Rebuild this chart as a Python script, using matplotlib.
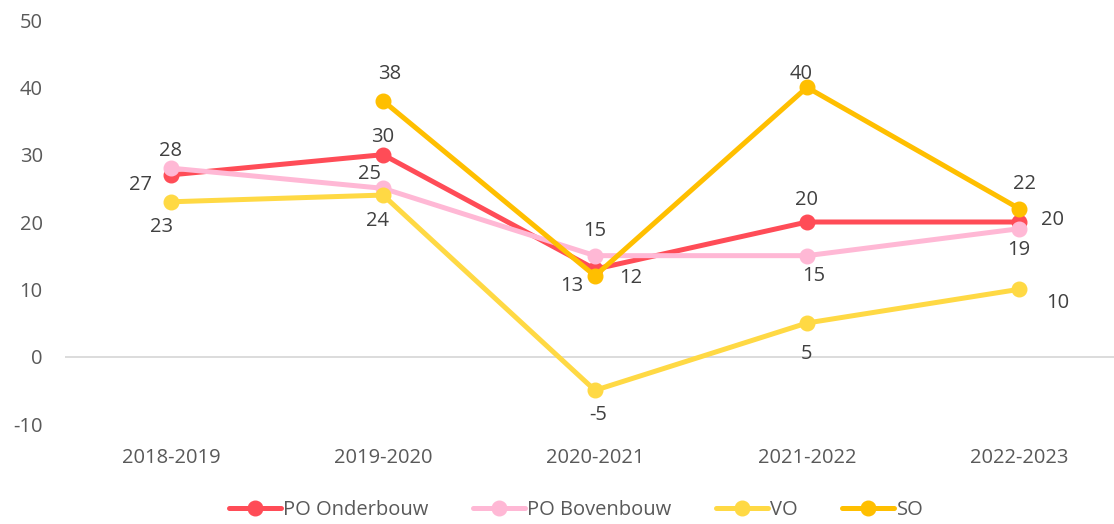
import matplotlib.pyplot as plt
import numpy as np

years = ["2018-2019", "2019-2020", "2020-2021", "2021-2022", "2022-2023"]
po_onder = [27, 30, 13, 20, 20]
po_boven = [28, 25, 15, 15, 19]
vo = [23, 24, -5, 5, 10]
so = [np.nan, 38, 12, 40, 22]

names = ["PO Onderbouw", "PO Bovenbouw", "VO", "SO"]
colors = ["#FF4C57", "#FFB8D5", "#FFD944", "#FFBF00"]
# label offsets in points (dx, dy) per point
offsets = [
    [(-22, -6), (0, 14), (-17, -11), (0, 17), (24, 3)],
    [(0, 14), (-10, 11.5), (0, 19), (5, -13), (0, -14)],
    [(-7, -17), (-4, -17), (2, -16), (0, -21), (28, -8)],
    [None, (5, 21), (26, 0), (-4, 11), (4, 19)],
]

plt.rcParams['font.family'] = ['Open Sans', 'DejaVu Sans']
plt.rcParams['axes.unicode_minus'] = False
fig = plt.figure(figsize=(11.14, 5.24), dpi=100)
ax = fig.add_axes([65 / 1114, 100 / 524, 1060 / 1114, 404 / 524])

x = np.arange(len(years))
series = [po_onder, po_boven, vo, so]
for vals, name, c, offs in zip(series, names, colors, offsets):
    ax.plot(x, vals, color=c, lw=3.6, marker="o", ms=10.5, label=name,
            solid_capstyle="round", zorder=3, clip_on=False)
    for xi, v, off in zip(x, vals, offs):
        if off is None or np.isnan(v):
            continue
        ax.annotate(str(v), (xi, v), xytext=(off[0], off[1] - 1.5),
                    textcoords="offset points", ha="center", va="center",
                    fontsize=14.5, color="#404040")

ax.set_xlim(-0.5, 4.5)
ax.set_ylim(-10, 50)
ax.set_yticks(range(-10, 51, 10))
ax.set_xticks(x)
ax.set_xticklabels(years)
ax.axhline(0, color="#D9D9D9", lw=1.3, zorder=1)
for s in ax.spines.values():
    s.set_visible(False)
ax.tick_params(length=0, labelsize=14.5, colors="#595959")
ax.tick_params(axis="y", pad=16)
ax.tick_params(axis="x", pad=17)

fig.legend(loc="center", bbox_to_anchor=(576 / 1114, 14 / 524), ncol=4, frameon=False,
           fontsize=14.5, labelcolor="#595959", handlelength=2.6, columnspacing=2.2,
           handletextpad=0.1, borderaxespad=0, handles=ax.get_lines()[:4])

fig.savefig("out.png", dpi=100)
